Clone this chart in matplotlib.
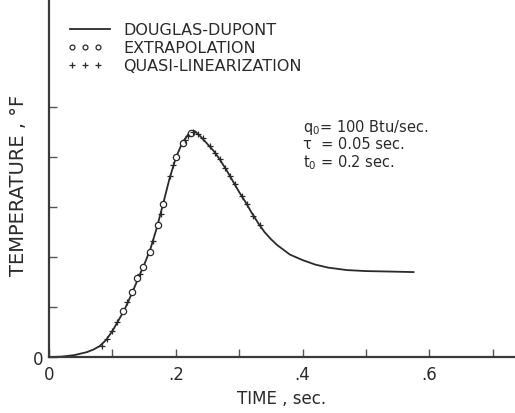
import matplotlib
matplotlib.use('Agg')
import matplotlib.pyplot as plt

# Douglas-Dupont solution
dd_time = [0.0, 0.02, 0.04, 0.06, 0.07, 0.08, 0.09, 0.10, 0.11, 0.12, 0.13, 0.14,
           0.15, 0.16, 0.17, 0.18, 0.19, 0.20, 0.21, 0.22, 0.23, 0.24, 0.25, 0.26,
           0.27, 0.28, 0.29, 0.30, 0.31, 0.32, 0.33, 0.34, 0.35, 0.36, 0.38, 0.40,
           0.42, 0.44, 0.47, 0.50, 0.54, 0.575]
dd_temp = [0.0, 0.01, 0.04, 0.10, 0.15, 0.22, 0.34, 0.52, 0.74, 0.97, 1.25, 1.55,
           1.84, 2.16, 2.58, 3.06, 3.56, 3.98, 4.28, 4.46, 4.52, 4.40, 4.26, 4.12,
           3.94, 3.74, 3.52, 3.30, 3.10, 2.88, 2.68, 2.50, 2.36, 2.24, 2.05, 1.94,
           1.85, 1.79, 1.74, 1.72, 1.71, 1.70]

# extrapolation points (open circles)
ex_time = [0.117, 0.131, 0.139, 0.148, 0.159, 0.172, 0.180, 0.201, 0.211, 0.224]
ex_temp = [0.92, 1.30, 1.58, 1.80, 2.10, 2.64, 3.06, 4.00, 4.28, 4.48]

# quasi-linearization points (plus signs)
ql_time = [0.084, 0.091, 0.099, 0.107, 0.123, 0.143, 0.164, 0.176, 0.191, 0.196,
           0.214, 0.219, 0.227, 0.235, 0.243, 0.254, 0.262, 0.270, 0.278, 0.285,
           0.293, 0.304, 0.312, 0.322, 0.333]
ql_temp = [0.22, 0.36, 0.52, 0.70, 1.10, 1.66, 2.32, 2.86, 3.62, 3.84,
           4.34, 4.42, 4.50, 4.46, 4.38, 4.22, 4.08, 3.96, 3.78, 3.62,
           3.46, 3.22, 3.06, 2.82, 2.64]

legend_labels = ['DOUGLAS-DUPONT', 'EXTRAPOLATION', 'QUASI-LINEARIZATION']
params = [r'$\mathregular{q_0}$= 100 Btu/sec.', 'τ  = 0.05 sec.', r'$\mathregular{t_0}$ = 0.2 sec.']

plt.rcParams['font.family'] = ['DejaVu Sans']
ink = '#2a2a2a'

fig = plt.figure(figsize=(5.15, 4.14), dpi=100)
ax = fig.add_axes([0.095, 0.135, 0.905, 0.865])

ax.plot(dd_time, dd_temp, color=ink, lw=1.3)
ax.plot(ex_time, ex_temp, ls='none', marker='o', ms=4.5, mfc='white', mec=ink, mew=0.9)
ax.plot(ql_time, ql_temp, ls='none', marker='+', ms=4.5, color=ink, mew=0.9)

ax.set_xlim(0, 0.735)
ax.set_ylim(0, 7.16)

for s in ['top', 'right']:
    ax.spines[s].set_visible(False)
for s in ['left', 'bottom']:
    ax.spines[s].set_color('#3a3a3a')
    ax.spines[s].set_linewidth(1.6)

ax.set_xticks([0, 0.2, 0.4, 0.6])
ax.set_xticklabels(['0', '.2', '.4', '.6'])
ax.set_xticks([0.1, 0.3, 0.5, 0.7], minor=True)
ax.set_yticks([0, 1, 2, 3, 4, 5])
ax.set_yticklabels(['0', '', '', '', '', ''])
ax.tick_params(axis='both', which='both', direction='in', length=6, width=1,
               color='#555555', labelsize=12, labelcolor=ink)
ax.tick_params(axis='x', pad=6)
ax.tick_params(axis='y', pad=4)

ax.set_xlabel('TIME , sec.', fontsize=12, color=ink, labelpad=4)
fig.text(0.035, 0.553, 'TEMPERATURE , °F', rotation=90, fontsize=14, color=ink,
         ha='center', va='center')

# legend block in the upper left
rows = [6.56, 6.20, 5.84]
ax.plot([0.033, 0.096], [rows[0], rows[0]], color=ink, lw=1.3)
ax.plot([0.036, 0.057, 0.077], [rows[1]] * 3, ls='none', marker='o', ms=3.5,
        mfc='white', mec=ink, mew=0.9)
ax.plot([0.036, 0.057, 0.077], [rows[2]] * 3, ls='none', marker='+', ms=5,
        color=ink, mew=0.9)
for r, lab in zip(rows, legend_labels):
    ax.text(0.117, r, lab, fontsize=11.5, va='center', color=ink)

for r, lab in zip([4.62, 4.27, 3.90], params):
    ax.text(0.400, r, lab, fontsize=10.5, va='center', color=ink)

fig.savefig('out.png', dpi=100)
